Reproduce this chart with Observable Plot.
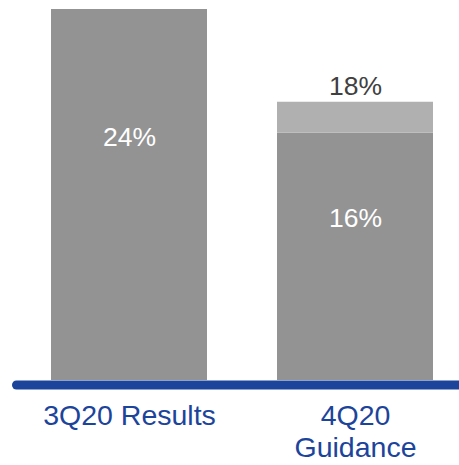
<!DOCTYPE html>
<html>
<head>
<meta charset="utf-8">
<script src="https://cdn.jsdelivr.net/npm/d3@7"></script>
<script src="https://cdn.jsdelivr.net/npm/@observablehq/plot@0.6"></script>
<style>
  html, body { margin: 0; padding: 0; background: #fff; }
  #chart { width: 459px; height: 465px; overflow: hidden; }
</style>
</head>
<body>
<div id="chart"></div>
<script>
const categories = ["3Q20 Results", "4Q20\nGuidance"];
const baseValues = [24, 16];
const rangeTop = [null, 18];
const baseLabels = ["24%", "16%"];
const topLabels = [null, "18%"];

const baseData = categories.map((c, i) => ({cat: c, value: baseValues[i], label: baseLabels[i]}));
const rangeData = categories.map((c, i) => ({cat: c, lo: baseValues[i], hi: rangeTop[i], label: topLabels[i]})).filter(d => d.hi != null);

const blue = "#1c449b";
const font = "Arial, 'Liberation Sans', sans-serif";

const chart = Plot.plot({
  width: 459,
  height: 465,
  marginTop: 9,
  marginBottom: 85,
  marginLeft: 51,
  marginRight: 25.5,
  style: {fontFamily: font, background: "#fff"},
  x: {domain: categories, paddingInner: 0.311, paddingOuter: 0, axis: null},
  y: {domain: [0, 24], axis: null},
  marks: [
    Plot.barY(baseData, {x: "cat", y1: 0, y2: "value", fill: "#939393"}),
    Plot.barY(rangeData, {x: "cat", y1: "lo", y2: "hi", fill: "#b0b0b0"}),
    Plot.ruleY(rangeData, {x: "cat", y: "lo", stroke: "#fff", strokeWidth: 2}),
    Plot.text(baseData, {x: "cat", y: d => d.value * 0.655, text: "label", fill: "#fff", fontSize: 26.5, lineAnchor: "middle"}),
    Plot.text(rangeData, {x: "cat", y: "hi", text: "label", fill: "#404040", fontSize: 26.5, lineAnchor: "middle", dy: -16}),
    Plot.ruleY([0], {stroke: blue, strokeWidth: 9, strokeLinecap: "round", dy: 4.5, insetLeft: -34.5, insetRight: -40}),
    Plot.axisX({tickSize: 0, tickPadding: 22, fontSize: 28.5, fill: blue, color: blue, lineHeight: 1.12, lineAnchor: "top", label: null})
  ]
});
document.getElementById("chart").appendChild(chart);
</script>
</body>
</html>
